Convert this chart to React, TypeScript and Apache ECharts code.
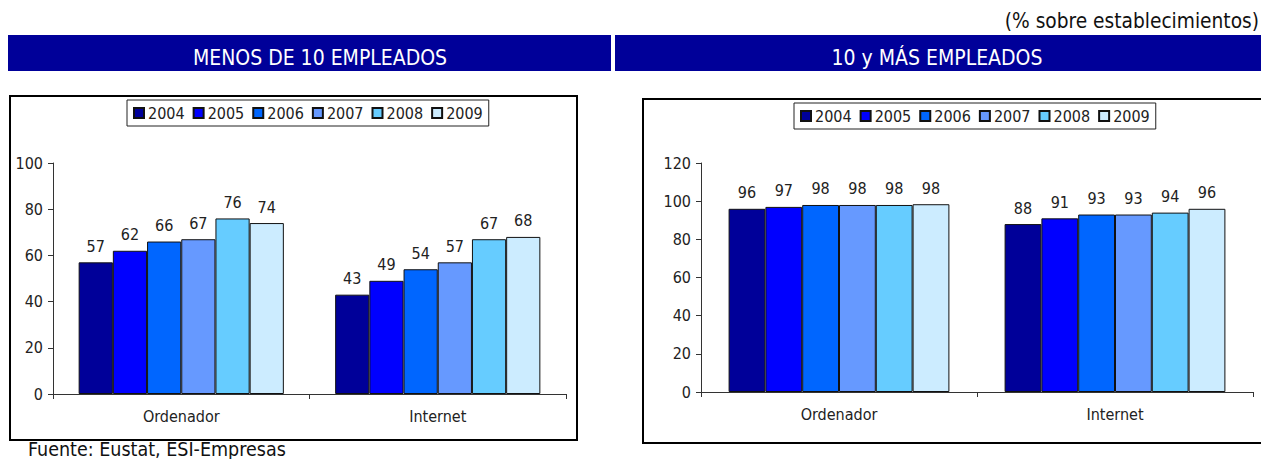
import React, { useEffect, useRef } from "react";
import * as echarts from "echarts";

const years = ["2004", "2005", "2006", "2007", "2008", "2009"];
const categories = ["Ordenador", "Internet"];
const colors = ["#000099", "#0000FF", "#0066FF", "#6699FF", "#66CCFF", "#CCECFF"];

// MENOS DE 10 EMPLEADOS: [Ordenador, Internet] per year
const small2004 = [57, 43];
const small2005 = [62, 49];
const small2006 = [66, 54];
const small2007 = [67, 57];
const small2008 = [76, 67];
const small2009 = [74, 68];

// 10 y MÁS EMPLEADOS
const big2004 = [96, 88];
const big2005 = [97, 91];
const big2006 = [98, 93];
const big2007 = [98, 93];
const big2008 = [98, 94];
const big2009 = [98.4, 96];

const smallSeries = [small2004, small2005, small2006, small2007, small2008, small2009];
const bigSeries = [big2004, big2005, big2006, big2007, big2008, big2009];

const FONT = "'DejaVu Sans Condensed', 'DejaVu Sans', sans-serif";

export default function App() {
  const ref = useRef<HTMLDivElement>(null);
  useEffect(() => {
    if (!ref.current) return;
    const chart = echarts.init(ref.current, null, { renderer: "svg" });
    const mkSeries = (data: number[][], idx: number) =>
      data.map((vals, i) => ({
        type: "bar",
        name: years[i],
        xAxisIndex: idx,
        yAxisIndex: idx,
        data: vals,
        barGap: "0%",
        barCategoryGap: "20%",
        itemStyle: { color: colors[i], borderColor: "#111", borderWidth: 1 },
        label: {
          show: true,
          position: "top",
          distance: 8,
          fontFamily: FONT,
          fontSize: 16,
          color: "#222",
          formatter: (p: any) => Math.round(p.value).toString(),
        },
      }));
    const axisText = { fontFamily: FONT, fontSize: 16, color: "#222" };
    const mkX = (gi: number) => ({
      type: "category",
      gridIndex: gi,
      data: categories,
      axisLine: { lineStyle: { color: "#333", width: 1 } },
      axisTick: { show: true, length: 5, lineStyle: { color: "#333" } },
      axisLabel: { ...axisText, margin: 14 },
    });
    const mkY = (gi: number, max: number) => ({
      type: "value",
      gridIndex: gi,
      min: 0,
      max,
      interval: 20,
      splitLine: { show: false },
      axisLine: { show: true, lineStyle: { color: "#333", width: 1 } },
      axisTick: { show: true, length: 5, lineStyle: { color: "#333" } },
      axisLabel: { ...axisText, margin: 10 },
    });
    const legendBase = {
      data: years,
      orient: "horizontal",
      icon: "rect",
      itemWidth: 10,
      itemHeight: 10,
      itemGap: 8,
      padding: [5, 6, 5, 6],
      borderColor: "#222",
      borderWidth: 1,
      backgroundColor: "#fff",
      textStyle: { fontFamily: FONT, fontSize: 16, color: "#222", padding: [0, 0, 0, -1] },
      selectedMode: false,
    };
    const bigText = (text: string, x: number, y: number, fill: string, align: string, size: number) => ({
      type: "text",
      x,
      y,
      style: { text, fill, fontFamily: FONT, fontSize: size, textAlign: align, textVerticalAlign: "middle" },
    });
    chart.setOption({
      animation: false,
      backgroundColor: "#fff",
      graphic: [
        { type: "rect", shape: { x: 10, y: 96, width: 567, height: 344 }, style: { fill: "#fff", stroke: "#000", lineWidth: 2 }, z: -10 },
        { type: "rect", shape: { x: 643, y: 99, width: 700, height: 344 }, style: { fill: "#fff", stroke: "#000", lineWidth: 2 }, z: -10 },
        { type: "rect", shape: { x: 8, y: 35, width: 603, height: 36 }, style: { fill: "#000099" } },
        { type: "rect", shape: { x: 615, y: 35, width: 646, height: 36 }, style: { fill: "#000099" } },
        bigText("MENOS DE 10 EMPLEADOS", 320, 58, "#fff", "center", 21),
        bigText("10 y MÁS EMPLEADOS", 937, 58, "#fff", "center", 21),
        bigText("(% sobre establecimientos)", 1259, 21, "#111", "right", 20.7),
        bigText("Fuente: Eustat, ESI-Empresas", 28, 449, "#111", "left", 19.5),
      ],
      legend: [
        { ...legendBase, left: 127, top: 100 },
        { ...legendBase, left: 794, top: 103 },
      ],
      grid: [
        { left: 53, top: 163, width: 513, height: 231 },
        { left: 701, top: 163, width: 552, height: 229 },
      ],
      xAxis: [mkX(0), mkX(1)],
      yAxis: [mkY(0, 100), mkY(1, 120)],
      series: [...mkSeries(smallSeries, 0), ...mkSeries(bigSeries, 1)],
    });
    return () => chart.dispose();
  }, []);
  return (
    <div
      ref={ref}
      style={{ position: "fixed", left: 0, top: 0, width: 1261, height: 459 }}
    />
  );
}
